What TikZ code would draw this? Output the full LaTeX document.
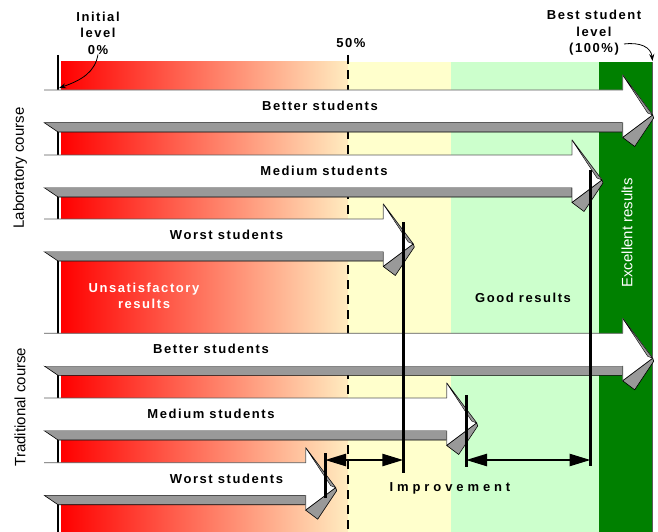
\documentclass[tikz,border=0pt]{standalone}
\usepackage{fontspec}
\setmainfont{Liberation Sans}
\newfontfamily\spacedfont[LetterSpace=12]{Liberation Sans}
\usetikzlibrary{arrows.meta}
\definecolor{peach}{RGB}{255,236,192}
\definecolor{paleyellow}{RGB}{255,255,204}
\definecolor{palegreen}{RGB}{204,255,204}
\definecolor{darkgreen}{RGB}{0,128,0}
\definecolor{shadowgray}{RGB}{153,153,153}
\definecolor{edgegray}{RGB}{90,90,90}
\tikzset{
  lbl/.style={font=\spacedfont\bfseries\fontsize{13}{16.5}\selectfont, align=center, inner sep=0pt},
  course/.style={font=\fontsize{15}{17}\selectfont, rotate=90, inner sep=0pt},
  side/.style={fill=shadowgray, draw=black, line width=0.6pt},
  marker/.style={line width=3pt},
  gap/.style={line width=2.5pt, {Triangle[length=21pt,width=12pt]}-{Triangle[length=21pt,width=12pt]}}
}
\begin{document}
\begin{tikzpicture}[x=1pt, y=-1pt, line join=round]
 \useasboundingbox (0,0) rectangle (658,532);
 \def\xa{44}\def\ytop{62}\def\ybot{532}
 % bands
 \shade[left color=red, right color=peach] (61,\ytop) rectangle (348,\ybot);
 \fill[paleyellow] (348,\ytop) rectangle (451,\ybot);
 \fill[palegreen] (451,\ytop) rectangle (599,\ybot);
 \fill[darkgreen] (599,\ytop) rectangle (652.7,\ybot);
 \draw[edgegray, line width=1pt] (652.7,\ytop) -- (652.7,\ybot);
 \draw[line width=1.2pt] (58,55) -- (58,\ybot);
 \draw[line width=2.2pt, dash pattern=on 9pt off 6pt] (348,55) -- (348,\ybot);
 % student arrows
 \foreach \yt/\xn/\txt/\xl in {90/622.7/Better students/320, 155/572/Medium students/324,
   219/383.3/Worst students/226.5, 333.3/622.7/Better students/211,
   398/446.7/Medium students/211, 462.7/305.7/Worst students/226.5}{
   \pgfmathsetmacro\yb{\yt+32.5}
   \pgfmathsetmacro\xt{\xn+30}
   \pgfmathsetmacro\ytip{\yt+25}
   \draw[side] (\xa,\yb) -- (\xn,\yb) -- (\xn,\yb+9.5) -- (\xa+14,\yb+9.5) -- cycle;
   \fill[white] (\xa,\yt) -- (\xn,\yt) -- (\xn,\yt-15) -- (\xt,\ytip) -- (\xn,\yb+15) -- (\xn,\yb) -- (\xa,\yb) -- cycle;
   \draw[edgegray, line width=0.8pt] (\xa,\yt) -- (\xn,\yt) -- (\xn,\yt-15) -- (\xt,\ytip) -- (\xn,\yb+15) -- (\xn,\yb);
   \draw[side] (\xn,\yb+15) -- (\xt,\ytip) -- (\xt+1,\ytip+3) -- (\xn+12,\yb+24) -- cycle;
   \draw[side, line width=0.4pt] (\xn,\yt-15) -- (\xt,\ytip) -- (\xt-5,\ytip-2) -- cycle;
   \node[lbl] at (\xl,\yt+16) {\txt};
 }
 % labels
 \node[lbl] (initlbl) at (98,33) {Initial\\level\\0\%};
 \node[lbl] (bestlbl) at (594,33) {Best student\\level\\(100\%)};
 \node[lbl] (halflbl) at (351,43) {50\%};
 \node[lbl, text=white] (unsat) at (144,296) {Unsatisfactory\\results};
 \node[lbl] (good) at (523,298) {Good results};
 \node[course, text=white] (excellent) at (627,233) {Excellent results};
 \node[course] (labcourse) at (20,168) {Laboratory course};
 \node[course] (tradcourse) at (20,407) {Traditional course};
 \node[lbl] (improve) at (450,488) {\addfontfeature{LetterSpace=30}Improvement};
 \coordinate (zero) at (59,88);
 \coordinate (pct) at (624,44);
 \coordinate (full) at (652.5,61);
 \draw[-{Stealth[length=7pt,width=5pt]}, line width=0.8pt] (initlbl.south) .. controls (95,72) and (82,80) .. (zero);
 \draw[-{Stealth[length=7pt,width=5pt]}, line width=0.8pt] (pct) .. controls (640,42) and (651,47) .. (full);
 % improvement
 \coordinate (m1t) at (403.3,222); \coordinate (m1b) at (403.3,473);
 \coordinate (m2t) at (590.5,170); \coordinate (m2b) at (590.5,466);
 \coordinate (m3t) at (466,395); \coordinate (m3b) at (466,467);
 \coordinate (m4t) at (325,453); \coordinate (m4b) at (325,498);
 \foreach \m in {1,2,3,4}
 \draw[marker] (m\m t) -- (m\m b);
 \draw[gap] (m4t|-0,460) -- (m1t|-0,460);
 \draw[gap] (m3t|-0,460) -- (m2t|-0,460);
\end{tikzpicture}
\end{document}
